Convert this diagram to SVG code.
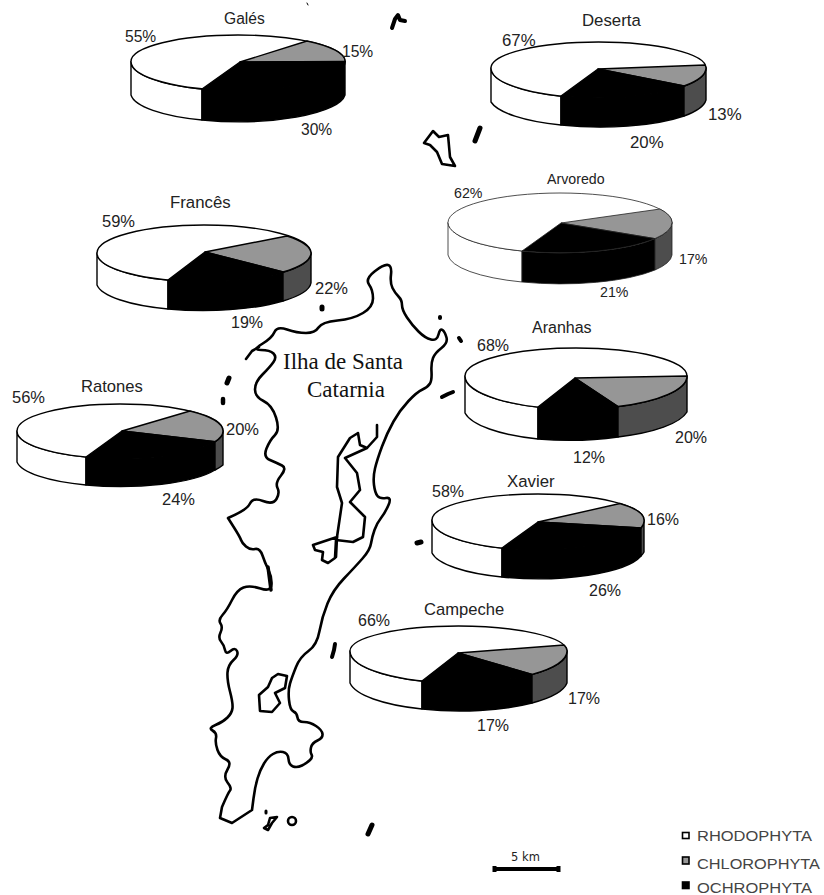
<svg xmlns="http://www.w3.org/2000/svg" width="824" height="895" viewBox="0 0 824 895">
<style>
.w{fill:#fff}.g{fill:#969696}.d{fill:#4d4d4d}.k{fill:#000}
.pie path{stroke:#000;stroke-width:1.4;stroke-linejoin:round}
.thin path{stroke:#222;stroke-width:.8}
.co{fill:none;stroke:#000;stroke-width:2.6;stroke-linejoin:round;stroke-linecap:round}
.is{fill:none;stroke:#000;stroke-width:4;stroke-linejoin:round;stroke-linecap:round}
text{font-family:"Liberation Sans",Arial,sans-serif;fill:#222}
.l{font-size:14px;fill:#444}
.sw{stroke:#000;stroke-width:1.6}
</style>
<rect width="824" height="895" fill="#fff"/>
<g id="map">
<path class="co" d="M374.500 271.500Q384 264 388 265Q392 266 391 274.500Q390 283 392.500 288Q395 293 398.500 296.500Q402 300 402 305Q402 310 407 317.500Q412 325 418.500 331.500Q425 338 431 339.500Q437 341 438.500 334.500Q440 328 442.500 330Q445 332 446.500 337.500Q448 343 441.500 348Q435 353 433 358Q431 363 431.500 371.500Q432 380 430 383.500Q428 387 422.500 389.500Q417 392 408.500 401Q400 410 393.500 421.500Q387 433 382 446.500Q377 460 375 468.500Q373 477 374 485Q375 493 377.500 496Q380 499 386 498Q392 497 388.500 505Q385 513 381 518Q377 523 374.500 530Q372 537 371 543.500Q370 550 362.500 558.500Q355 567 344 578.500Q333 590 327.500 603.500Q322 617 319.500 631Q317 645 308.500 651Q300 657 296 667Q292 677 290 683.500Q288 690 289 700Q290 710 293.500 711.500Q297 713 297.500 717.500Q298 722 304 722Q310 722 316 726Q322 730 322.500 734Q323 738 317.500 740.500Q312 743 311 747.500Q310 752 311.500 754.500Q313 757 310 760Q307 763 302 765.500Q297 768 293 766.500Q289 765 288.500 759Q288 753 283 752Q278 751 273 754Q268 757 264 763.500Q260 770 257.500 778.500Q255 787 253.500 798.500L252 810L232 823L220 818L222 807Q228 793 230 790.500Q232 788 227.500 782.500Q223 777 227.500 769.500Q232 762 226 759.500Q220 757 217.500 750Q215 743 216 738Q217 733 212.500 730.500Q208 728 215.500 725Q223 722 227.500 717.500Q232 713 232.500 708Q233 703 230 691.500Q227 680 227.500 672.500Q228 665 233.500 660Q239 655 237 651Q235 647 230.500 651Q226 655 225 650Q224 645 221 641.500Q218 638 220.500 632.500Q223 627 220.500 623.500Q218 620 222.500 615Q227 610 232 600Q237 590 243.500 587.500Q250 585 260.500 588.500Q271 592 271.500 584.500Q272 577 268.500 570Q265 563 262.500 555.500Q260 548 255 549Q250 550 246 546.500Q242 543 241 540Q240 537 234 527.500L228 518Q247 510 250 503.500Q253 497 263 501Q273 505 276.500 499Q280 493 277.500 488Q275 483 281 475.500Q287 468 282 465.500Q277 463 270 460Q263 457 266.500 448.500Q270 440 275 435Q280 430 276 417.500Q272 405 263.500 401Q255 397 255 389.500Q255 382 262.500 374.500Q270 367 273.500 362Q277 357 273.500 353.500Q270 350 261 350Q252 350 262 344Q272 338 274.500 332Q277 326 287 329.500Q297 333 306 333Q315 333 318.500 327.500Q322 322 337.500 320.500Q353 319 363 313Q373 307 373 298.500Q373 290 369 284.500Q365 279 374.500 271.500Z"/>
<path class="co" d="M259 347L252 351L246 359"/>
<path class="co" d="M377 425L377 437L367 448L360 445L358 433L350 438L338 457L337 487L342 503L337 537L313 545L315 550L323 552L322 560L328 563L335 558L336 540L353 542L363 537L365 517L350 502L360 490L357 473L345 458L367 448"/>
<path class="co" d="M337 537L336 557"/>
<path class="co" d="M272 678L278 674L287 676L285 688L275 693L280 703L272 712L260 711L259 695L268 687Z"/>
<path class="co" d="M424 143L433 131L439 137L448 135L450 157L455 166L442 164L437 152L430 145Z"/>
<path class="co" d="M277 817L270 818L268 825L264 828L268 830L272 823Z"/>
<ellipse class="co" cx="292" cy="821" rx="4" ry="4"/>
<path class="co" style="stroke-width:3.5" d="M268 567L271 590"/>
<path class="is" d="M392 28L395 19L398 15L400 20L405 21"/>
<path class="is" style="stroke-width:5" d="M480 128L475 141"/>
<path class="is" style="stroke-width:5" d="M322 307L322 309"/>
<path class="is" d="M440 317L440 318"/>
<path class="is" d="M459 338L461 341"/>
<path class="is" d="M442 397L448 394L453 392"/>
<path class="is" style="stroke-width:5" d="M229 378L227 383"/>
<path class="is" style="stroke-width:4.500" d="M223 399L223 403"/>
<path class="is" style="stroke-width:5" d="M417 543L421 542"/>
<path class="is" d="M335 644L334 650L332 657"/>
<path class="is" style="stroke-width:3" d="M266 811L266 813"/>
<path class="is" style="stroke-width:5" d="M368 834L372 825"/>
<path class="is" style="stroke-width:1" d="M307 3L308 5"/>
</g>
<g id="pie-gales" class="pie">
<path class="w" d="M131 61.500A107 29 0 0 0 202 89L202 120A107 29 0 0 1 131 95Z"/>
<path class="k" d="M202 89A107 29 0 0 0 345 61.500L345 95A107 29 0 0 1 202 120Z"/>
<path class="w" d="M131 61.500A107 26.500 0 0 1 345 61.500A107 29 0 0 1 131 61.500Z"/>
<path class="g" d="M240 62L307 41A107 26.500 0 0 1 345 61.500Z"/>
<path class="k" d="M240 62L345 61.500A107 29 0 0 1 202 89Z"/>
<text x="224" y="24" font-size="15.600">Galés</text>
<text x="125" y="42" font-size="15.600">55%</text><text x="342" y="57" font-size="15.600">15%</text><text x="301" y="135" font-size="15.600">30%</text>
</g>
<g id="pie-deserta" class="pie">
<path class="w" d="M491 68A107.500 30 0 0 0 561 96L561 125A107.500 30 0 0 1 491 102Z"/>
<path class="k" d="M561 96A107.500 30 0 0 0 684 86L684 116A107.500 30 0 0 1 561 125Z"/>
<path class="d" d="M684 86A107.500 30 0 0 0 706 68L706 100A107.500 30 0 0 1 684 116Z"/>
<path class="w" d="M491 68A107.500 26 0 0 1 706 68A107.500 30 0 0 1 491 68Z"/>
<path class="g" d="M598 69L705 65A107.500 26 0 0 1 706 68A107.500 30 0 0 1 684 86Z"/>
<path class="k" d="M598 69L684 86A107.500 30 0 0 1 561 96Z"/>
<text x="582" y="26" font-size="16.800">Deserta</text>
<text x="502" y="46" font-size="16.800">67%</text><text x="708" y="120" font-size="16.800">13%</text><text x="630" y="148" font-size="16.800">20%</text>
</g>
<g id="pie-arvoredo" class="pie thin">
<path class="w" d="M448 222.500A112 30.300 0 0 0 522 251L522 282A112 30.300 0 0 1 448 255Z"/>
<path class="k" d="M522 251A112 30.300 0 0 0 655 238.600L655 270A112 30.300 0 0 1 522 282Z"/>
<path class="d" d="M655 238.600A112 30.300 0 0 0 672 222.500L672 255A112 30.300 0 0 1 655 270Z"/>
<path class="w" d="M448 222.500A112 29.500 0 0 1 672 222.500A112 30.300 0 0 1 448 222.500Z"/>
<path class="g" d="M561 223L660 209A112 29.500 0 0 1 672 222.500A112 30.300 0 0 1 655 238.600Z"/>
<path class="k" d="M561 223L655 238.600A112 30.300 0 0 1 522 251Z"/>
<text x="547" y="184" font-size="14.200">Arvoredo</text>
<text x="454" y="198" font-size="14.200">62%</text><text x="679" y="264" font-size="14.200">17%</text><text x="600" y="297" font-size="14.200">21%</text>
</g>
<g id="pie-frances" class="pie">
<path class="w" d="M97 253A107 28.700 0 0 0 168 280L168 309A107 28.700 0 0 1 97 285Z"/>
<path class="k" d="M168 280A107 28.700 0 0 0 283 272L283 301A107 28.700 0 0 1 168 309Z"/>
<path class="d" d="M283 272A107 28.700 0 0 0 311 253L311 283A107 28.700 0 0 1 283 301Z"/>
<path class="w" d="M97 253A107 28 0 0 1 311 253A107 28.700 0 0 1 97 253Z"/>
<path class="g" d="M205 252L287 236A107 28 0 0 1 311 253A107 28.700 0 0 1 283 272Z"/>
<path class="k" d="M205 252L283 272A107 28.700 0 0 1 168 280Z"/>
<text x="170" y="208" font-size="16.800">Francês</text>
<text x="102" y="227" font-size="16.500">59%</text><text x="315" y="294" font-size="16.500">22%</text><text x="231" y="328" font-size="16">19%</text>
</g>
<g id="pie-ratones" class="pie">
<path class="w" d="M17 431A103 27.500 0 0 0 86 457L86 485A103 27.500 0 0 1 17 462Z"/>
<path class="k" d="M86 457A103 27.500 0 0 0 215 441.600L215 470A103 27.500 0 0 1 86 485Z"/>
<path class="d" d="M215 441.600A103 27.500 0 0 0 223 431L223 465A103 27.500 0 0 1 215 470Z"/>
<path class="w" d="M17 431A103 27 0 0 1 223 431A103 27.500 0 0 1 17 431Z"/>
<path class="g" d="M122 431L190 411A103 27 0 0 1 223 431A103 27.500 0 0 1 215 441.600Z"/>
<path class="k" d="M122 431L215 441.600A103 27.500 0 0 1 86 457Z"/>
<text x="81" y="392" font-size="16.600">Ratones</text>
<text x="12" y="403" font-size="16.500">56%</text><text x="226" y="435" font-size="16.500">20%</text><text x="162" y="505" font-size="16.500">24%</text>
</g>
<g id="pie-aranhas" class="pie">
<path class="w" d="M465 376A111 33 0 0 0 538 407L538 439A111 33 0 0 1 465 413Z"/>
<path class="k" d="M538 407A111 33 0 0 0 618 406.500L618 437A111 33 0 0 1 538 439Z"/>
<path class="d" d="M618 406.500A111 33 0 0 0 687 376L687 412A111 33 0 0 1 618 437Z"/>
<path class="w" d="M465 376A111 28 0 0 1 687 376A111 33 0 0 1 465 376Z"/>
<path class="g" d="M575 378L687 376A111 33 0 0 1 618 406.500Z"/>
<path class="k" d="M575 378L618 406.500A111 33 0 0 1 538 407Z"/>
<text x="532" y="333" font-size="16">Aranhas</text>
<text x="477" y="351" font-size="16">68%</text><text x="675" y="443" font-size="16">20%</text><text x="573" y="463" font-size="16">12%</text>
</g>
<g id="pie-xavier" class="pie">
<path class="w" d="M432 520A106 29.800 0 0 0 502 548L502 577A106 29.800 0 0 1 432 553Z"/>
<path class="k" d="M502 548A106 29.800 0 0 0 641 528L641 556A106 29.800 0 0 1 502 577Z"/>
<path class="d" d="M641 528A106 29.800 0 0 0 644 520L644 552A106 29.800 0 0 1 641 556Z"/>
<path class="w" d="M432 520A106 26 0 0 1 644 520A106 29.800 0 0 1 432 520Z"/>
<path class="g" d="M538 522L620 503.500A106 26 0 0 1 644 520A106 29.800 0 0 1 641 528Z"/>
<path class="k" d="M538 522L641 528A106 29.800 0 0 1 502 548Z"/>
<text x="507" y="487" font-size="16.800">Xavier</text>
<text x="432" y="497" font-size="16">58%</text><text x="647" y="525" font-size="16">16%</text><text x="589" y="596" font-size="16">26%</text>
</g>
<g id="pie-campeche" class="pie">
<path class="w" d="M350 651A108.500 31.800 0 0 0 422 681L422 709A108.500 31.800 0 0 1 350 683Z"/>
<path class="k" d="M422 681A108.500 31.800 0 0 0 532 674.400L532 703A108.500 31.800 0 0 1 422 709Z"/>
<path class="d" d="M532 674.400A108.500 31.800 0 0 0 567 651L567 683A108.500 31.800 0 0 1 532 703Z"/>
<path class="w" d="M350 651A108.500 25 0 0 1 567 651A108.500 31.800 0 0 1 350 651Z"/>
<path class="g" d="M458 653L564 645A108.500 25 0 0 1 567 651A108.500 31.800 0 0 1 532 674.400Z"/>
<path class="k" d="M458 653L532 674.400A108.500 31.800 0 0 1 422 681Z"/>
<text x="424" y="615" font-size="16.600">Campeche</text>
<text x="358" y="626" font-size="16">66%</text><text x="568" y="704" font-size="16">17%</text><text x="477" y="731" font-size="16">17%</text>
</g>
<g id="map-label">
<text x="283" y="369" font-size="23" style="font-family:'Liberation Serif',serif;fill:#111">Ilha de Santa</text>
<text x="307" y="397" font-size="23" style="font-family:'Liberation Serif',serif;fill:#111">Catarnia</text>
</g>
<g id="scale">
<text x="511" y="861" font-size="11.500" style="font-family:'DejaVu Sans',sans-serif">5 km</text>
<rect x="493" y="867" width="67" height="4" fill="#000"/>
<rect x="492.500" y="866" width="4" height="6" fill="#000"/>
<rect x="556.500" y="866" width="4" height="6" fill="#000"/>
</g>
<g id="legend">
<rect class="sw" x="682.500" y="832.500" width="6.500" height="6" fill="#fff"/>
<rect class="sw" x="682.500" y="857" width="6.500" height="7" fill="#969696"/>
<rect class="sw" x="682.500" y="882" width="6.500" height="6.500" fill="#000"/>
<text class="l" x="697" y="841" textLength="115" lengthAdjust="spacingAndGlyphs">RHODOPHYTA</text>
<text class="l" x="697" y="869" textLength="123" lengthAdjust="spacingAndGlyphs">CHLOROPHYTA</text>
<text class="l" x="697" y="893" textLength="115" lengthAdjust="spacingAndGlyphs">OCHROPHYTA</text>
</g>
</svg>
